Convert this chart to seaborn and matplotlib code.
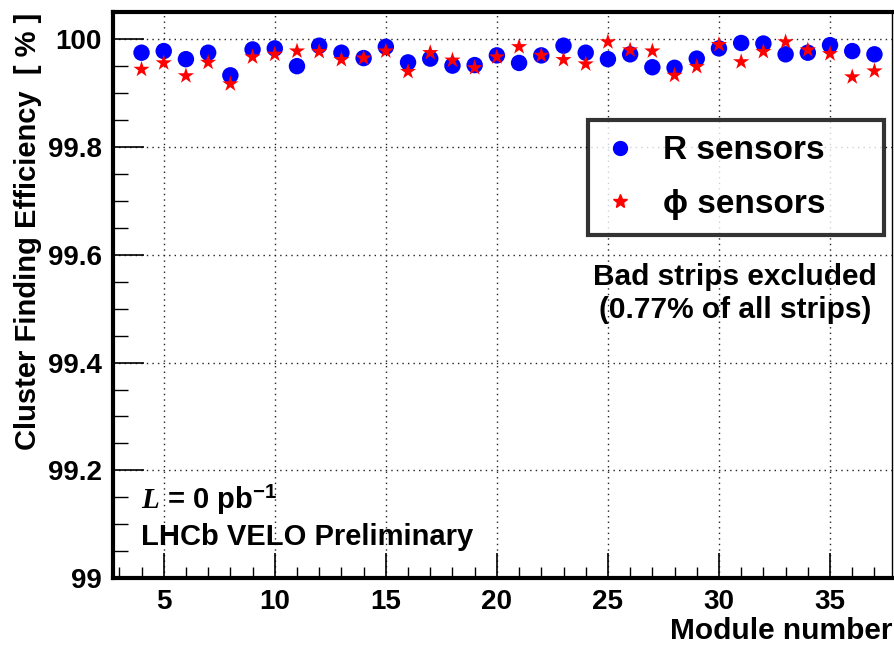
import numpy as np
import pandas as pd
import matplotlib
matplotlib.use("Agg")
import matplotlib.pyplot as plt
import seaborn as sns
from matplotlib.ticker import MultipleLocator, FixedLocator
from matplotlib.lines import Line2D

modules = list(range(4, 38))
r_eff = [99.975, 99.978, 99.963, 99.975, 99.933, 99.981, 99.983, 99.950, 99.988, 99.975,
         99.965, 99.986, 99.957, 99.964, 99.951, 99.952, 99.970, 99.956, 99.970, 99.988,
         99.975, 99.963, 99.972, 99.948, 99.947, 99.964, 99.983, 99.993, 99.992, 99.972,
         99.975, 99.989, 99.978, 99.972]
phi_eff = [99.944, 99.956, 99.932, 99.957, 99.917, 99.967, 99.972, 99.978, 99.977, 99.962,
           99.965, 99.978, 99.940, 99.975, 99.961, 99.947, 99.967, 99.986, 99.970, 99.962,
           99.954, 99.995, 99.980, 99.978, 99.933, 99.949, 99.990, 99.958, 99.977, 99.995,
           99.980, 99.973, 99.930, 99.941]
y_ticks = [99.0, 99.2, 99.4, 99.6, 99.8, 100.0]
y_tick_labels = ["99", "99.2", "99.4", "99.6", "99.8", "100"]
x_ticks = [5, 10, 15, 20, 25, 30, 35]

df = pd.DataFrame({
    "module": modules * 2,
    "eff": r_eff + phi_eff,
    "sensor": ["R sensors"] * len(modules) + ["phi sensors"] * len(modules),
})

sns.set_theme(style="white")
plt.rcParams["font.family"] = ["Liberation Sans", "DejaVu Sans"]
plt.rcParams.update({
    "font.weight": "bold",
    "text.color": "black",
    "axes.labelcolor": "black",
    "xtick.color": "black",
    "ytick.color": "black",
    "xtick.bottom": True,
    "ytick.left": True,
    "mathtext.fontset": "custom",
    "mathtext.it": "Liberation Serif:italic",
    "mathtext.rm": "Liberation Sans:bold",
    "mathtext.bf": "Liberation Sans:bold",
})

fig = plt.figure(figsize=(8.94, 6.46), dpi=100)
ax = fig.add_axes([0.126, 0.105, 0.872, 0.876])

sns.scatterplot(data=df[df.sensor == "R sensors"], x="module", y="eff", ax=ax,
                marker="o", color="#0000ff", s=140, edgecolor="none", zorder=3,
                legend=False)
sns.scatterplot(data=df[df.sensor == "phi sensors"], x="module", y="eff", ax=ax,
                marker="*", color="#ff0000", s=150, edgecolor="none", zorder=4,
                legend=False)

ax.set_xlim(2.7, 37.8)
ax.set_ylim(99.0, 100.05)
ax.xaxis.set_major_locator(FixedLocator(x_ticks))
ax.xaxis.set_minor_locator(MultipleLocator(1))
ax.yaxis.set_major_locator(FixedLocator(y_ticks))
ax.yaxis.set_minor_locator(MultipleLocator(0.05))
ax.set_yticklabels(y_tick_labels)
ax.set_xticklabels([str(v) for v in x_ticks])

ax.tick_params(axis="x", which="major", direction="in", length=18, width=1.2,
               labelsize=20, pad=8)
ax.tick_params(axis="x", which="minor", direction="in", length=8, width=1.0)
ax.tick_params(axis="y", which="major", direction="in", length=22, width=1.2,
               labelsize=20, pad=8)
ax.tick_params(axis="y", which="minor", direction="in", length=11, width=1.0)
ax.tick_params(axis="both", which="both", top=False, right=False,
               bottom=True, left=True, color="black", labelcolor="black")
for lab in ax.get_xticklabels() + ax.get_yticklabels():
    lab.set_fontweight("bold")

ax.grid(True, which="major", linestyle=(0, (1, 3)), color="#222222", linewidth=1.0)
for side in ["left", "bottom", "top"]:
    ax.spines[side].set_linewidth(3)
    ax.spines[side].set_color("black")
ax.spines["right"].set_linewidth(1)
ax.spines["right"].set_color("black")

ax.set_xlabel("")
ax.set_ylabel("")
fig.text(0.998, 0.002, "Module number", ha="right", va="bottom", fontsize=21.5,
         fontweight="bold")
fig.text(0.031, 0.98, "Cluster Finding Efficiency  [ % ]", rotation=90, ha="center",
         va="top", fontsize=21, fontweight="bold")

handles = [
    Line2D([], [], linestyle="none", marker="o", color="#0000ff", markersize=10),
    Line2D([], [], linestyle="none", marker="*", color="#ff0000", markersize=10),
]
leg = ax.legend(handles, ["R sensors", "ϕ sensors"], loc="upper left",
                bbox_to_anchor=(0.61, 0.809, 0.38, 0.0), mode="expand",
                frameon=True, fontsize=24, handletextpad=0.8, borderpad=0.45,
                labelspacing=0.68, fancybox=False, edgecolor="black",
                borderaxespad=0, handlelength=1.0)
leg.get_frame().set_linewidth(3)
for t in leg.get_texts():
    t.set_fontweight("bold")

ax.text(0.798, 0.503, "Bad strips excluded\n(0.77% of all strips)", transform=ax.transAxes,
        ha="center", va="center", fontsize=21.5, fontweight="bold", linespacing=1.2)
ax.text(0.037, 0.138, r"$\mathit{L}$ = 0 pb$^{-1}$", transform=ax.transAxes,
        ha="left", va="center", fontsize=21, fontweight="bold")
ax.text(0.037, 0.073, "LHCb VELO Preliminary", transform=ax.transAxes,
        ha="left", va="center", fontsize=21, fontweight="bold")

fig.savefig("out.png", dpi=100)
